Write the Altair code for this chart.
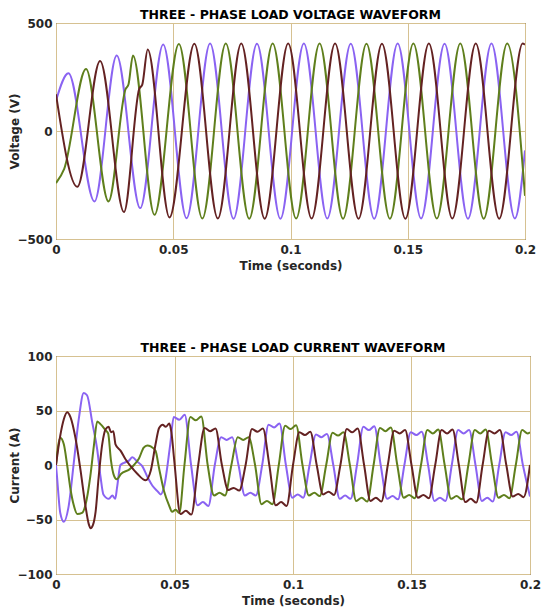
import altair as alt
import pandas as pd

PHASES = ["Phase A", "Phase B", "Phase C"]
COLORS = ["#8a63f2", "#5f7f1c", "#642222"]

TIME_TICKS = [0, 0.05, 0.1, 0.15, 0.2]
VOLT_TICKS = [-500, 0, 500]
CURR_TICKS = [-100, -50, 0, 50, 100]

# ---- load voltage (V): extrema (time s, volts) ----
VOLT_A = [(0, 140), (0.0053, 267), (0.0164, -326), (0.0259, 349), (0.0359, -357),
          (0.0457, 401), (0.0557, -404), (0.0657, 405), (0.0757, -406), (0.0857, 404),
          (0.0957, -406), (0.1057, 405), (0.1157, -405), (0.1257, 404), (0.1357, -406),
          (0.1457, 405), (0.1557, -405), (0.1657, 404), (0.1757, -406), (0.1857, 405),
          (0.1957, -405), (0.2, -90)]
VOLT_B = [(0, -241), (0.0035, -175), (0.0128, 287), (0.0224, -326), (0.0297, 195),
          (0.0309, 215), (0.0328, 349), (0.0420, -388), (0.0524, 403), (0.0624, -405),
          (0.0724, 405), (0.0824, -406), (0.0924, 405), (0.1024, -405), (0.1124, 405),
          (0.1224, -406), (0.1324, 404), (0.1424, -406), (0.1524, 405), (0.1624, -405),
          (0.1724, 405), (0.1824, -406), (0.1924, 405), (0.2, -300)]
VOLT_C = [(0, 170), (0.0091, -258), (0.0188, 324), (0.0290, -375), (0.0355, 195),
          (0.0368, 215), (0.0391, 377), (0.0484, -400), (0.0590, 404), (0.0690, -405),
          (0.0790, 405), (0.0890, -406), (0.0990, 405), (0.1090, -405), (0.1190, 405),
          (0.1290, -406), (0.1390, 404), (0.1490, -406), (0.1590, 405), (0.1690, -405),
          (0.1790, 405), (0.1890, -406), (0.1990, 405), (0.2, 400)]

# ---- load current (A): points (time s, amps) ----
CURR_A = [(0, 0), (0.0004, -10), (0.0018, -44), (0.0033, -52), (0.0054, -37), (0.0075, 2),
          (0.0096, 42), (0.0117, 66), (0.0131, 64), (0.0153, 39), (0.0174, 14), (0.0188, -11),
          (0.0200, -27), (0.0223, -31), (0.0238, -28), (0.0250, -31), (0.0258, -20), (0.0272, 0),
          (0.0287, 2), (0.0308, 4), (0.0322, 7), (0.0343, 3), (0.0364, -1), (0.0386, -11),
          (0.0407, -19), (0.0428, -24), (0.0442, -27), (0.0456, -20), (0.0482, 19),
          (0.0497, 44), (0.0520, 41.5), (0.0543, 46), (0.0570, 0),
          (0.0597, -37), (0.0620, -34), (0.0643, -37.5), (0.0670, 0),
          (0.0697, 25.5), (0.0720, 23), (0.0743, 25.5), (0.0770, 0),
          (0.0797, -28), (0.0820, -25.5), (0.0843, -28), (0.0870, 0),
          (0.0897, 37), (0.0920, 34.5), (0.0943, 38), (0.0970, 0),
          (0.0997, -30), (0.1020, -27), (0.1043, -30), (0.1070, 0),
          (0.1097, 28), (0.1120, 25.5), (0.1143, 28.5), (0.1170, 0),
          (0.1197, -31), (0.1220, -28), (0.1243, -31), (0.1270, 0),
          (0.1297, 35), (0.1320, 32), (0.1343, 35.5), (0.1370, 0),
          (0.1397, -31), (0.1420, -28.5), (0.1443, -31.5), (0.1470, 0),
          (0.1497, 30), (0.1520, 27.5), (0.1543, 30.5), (0.1570, 0),
          (0.1597, -33), (0.1620, -30), (0.1643, -33), (0.1670, 0),
          (0.1697, 32), (0.1720, 29), (0.1743, 32), (0.1770, 0),
          (0.1797, -33), (0.1820, -30), (0.1843, -33.5), (0.1870, 0),
          (0.1897, 30), (0.1920, 27.5), (0.1943, 30.5), (0.1970, 0),
          (0.2000, -29)]
CURR_B = [(0, 0), (0.0008, 16), (0.0018, 25), (0.0033, 19), (0.0047, 0), (0.0061, -22),
          (0.0075, -37), (0.0090, -45), (0.0110, -44), (0.0124, -37), (0.0145, -10),
          (0.0160, 18), (0.0174, 40), (0.0190, 37), (0.0209, 32), (0.0220, 29), (0.0232, 4),
          (0.0245, -10), (0.0256, -13), (0.0275, -8), (0.0310, -4), (0.0329, 0), (0.0350, 6),
          (0.0370, 16), (0.0385, 18), (0.0400, 17), (0.0420, 13), (0.0434, -2), (0.0456, -24),
          (0.0477, -37), (0.0490, -43), (0.0505, -41), (0.0520, -44), (0.0542, 0),
          (0.0567, 44), (0.0590, 41), (0.0613, 44.5), (0.0640, 0),
          (0.0667, -28), (0.0690, -25.5), (0.0713, -28), (0.0740, 0),
          (0.0767, 25.5), (0.0790, 23), (0.0813, 25.5), (0.0840, 0),
          (0.0867, -36), (0.0890, -33), (0.0913, -36), (0.0940, 0),
          (0.0967, 36), (0.0990, 33), (0.1013, 36.5), (0.1040, 0),
          (0.1067, -28), (0.1090, -25.5), (0.1113, -28.5), (0.1140, 0),
          (0.1167, 29.5), (0.1190, 27), (0.1213, 30), (0.1240, 0),
          (0.1267, -33), (0.1290, -30), (0.1313, -33.5), (0.1340, 0),
          (0.1367, 34), (0.1390, 31), (0.1413, 34.5), (0.1440, 0),
          (0.1467, -30), (0.1490, -27.5), (0.1513, -30.5), (0.1540, 0),
          (0.1567, 32), (0.1590, 29), (0.1613, 32.5), (0.1640, 0),
          (0.1667, -31), (0.1690, -28.5), (0.1713, -31.5), (0.1740, 0),
          (0.1767, 32), (0.1790, 29), (0.1813, 32.5), (0.1840, 0),
          (0.1867, -30), (0.1890, -27.5), (0.1913, -30.5), (0.1940, 0),
          (0.1967, 32), (0.1990, 29), (0.2000, 30)]
CURR_C = [(0, 0), (0.0018, 27), (0.0033, 42), (0.0047, 48.5), (0.0061, 44), (0.0082, 25),
          (0.0103, -4), (0.0124, -37), (0.0138, -54), (0.0146, -58), (0.0156, -55),
          (0.0167, -43), (0.0180, -11), (0.0195, 19), (0.0210, 33), (0.0222, 35), (0.0232, 30),
          (0.0242, 31), (0.0251, 19), (0.0273, 13), (0.0294, 5), (0.0315, -1), (0.0343, -8),
          (0.0378, -14), (0.0400, -5), (0.0420, 19), (0.0435, 34), (0.0450, 37), (0.0463, 35),
          (0.0478, 38), (0.0487, 30), (0.0499, 4),
          (0.0525, -45), (0.0548, -42), (0.0571, -45.5), (0.0600, 0),
          (0.0627, 34), (0.0650, 31), (0.0673, 33.5), (0.0700, 0),
          (0.0727, -23), (0.0750, -21), (0.0773, -23.5), (0.0800, 0),
          (0.0827, 33), (0.0850, 30.5), (0.0873, 33.5), (0.0900, 0),
          (0.0927, -37), (0.0950, -34), (0.0973, -37.5), (0.1000, 0),
          (0.1027, 30), (0.1050, 27.5), (0.1073, 30.5), (0.1100, 0),
          (0.1127, -27), (0.1150, -24.5), (0.1173, -27.5), (0.1200, 0),
          (0.1227, 33), (0.1250, 30), (0.1273, 33.5), (0.1300, 0),
          (0.1327, -33), (0.1350, -30), (0.1373, -33.5), (0.1400, 0),
          (0.1427, 31.5), (0.1450, 29), (0.1473, 32), (0.1500, 0),
          (0.1527, -30), (0.1550, -27.5), (0.1573, -30.5), (0.1600, 0),
          (0.1627, 32), (0.1650, 29), (0.1673, 32.5), (0.1700, 0),
          (0.1727, -34), (0.1750, -31), (0.1773, -34.5), (0.1800, 0),
          (0.1827, 31.5), (0.1850, 29), (0.1873, 32), (0.1900, 0),
          (0.1927, -29), (0.1950, -26.5), (0.1973, -29.5), (0.2000, 0)]


def frame(series):
    rows = []
    for name, pts in zip(PHASES, series):
        rows += [{"t": t, "v": v, "phase": name} for t, v in pts]
    return pd.DataFrame(rows)


def panel(df, title, ytitle, ydomain, yticks, width, height):
    return alt.Chart(df, title=alt.Title(title, frame="group", offset=-4)).mark_line(
        interpolate="monotone", strokeWidth=2, clip=True
    ).encode(
        x=alt.X("t:Q", scale=alt.Scale(domain=[0, 0.2], nice=False, zero=False),
                axis=alt.Axis(values=TIME_TICKS, format="~g", title="Time (seconds)",
                              labelPadding=5, titlePadding=5)),
        y=alt.Y("v:Q", scale=alt.Scale(domain=ydomain, nice=False),
                axis=alt.Axis(values=yticks, title=ytitle, labelPadding=4, titlePadding=-5)),
        color=alt.Color("phase:N", scale=alt.Scale(domain=PHASES, range=COLORS), legend=None),
    ).properties(width=width, height=height)


top = panel(frame([VOLT_A, VOLT_B, VOLT_C]), "THREE - PHASE LOAD VOLTAGE WAVEFORM",
            "Voltage (V)", [-500, 500], VOLT_TICKS, 469, 216)
bottom = panel(frame([CURR_A, CURR_B, CURR_C]), "THREE - PHASE LOAD CURRENT WAVEFORM",
               "Current (A)", [-100, 100], CURR_TICKS, 474, 218)

chart = alt.VConcatChart(vconcat=[top, bottom], spacing=69, padding=0).configure_view(
    stroke="black", strokeWidth=1
).configure_axis(
    domain=False, ticks=False, labelFont="DejaVu Sans", labelFontWeight="bold",
    labelFontSize=12, labelColor="#262626", titleFont="DejaVu Sans",
    titleFontWeight="bold", titleFontSize=12, titleColor="#262626",
    gridColor="#d6c191", gridOpacity=1, gridWidth=1, labelFlush=False
).configure_title(
    font="DejaVu Sans", fontSize=12.5, fontWeight="bold", color="black", anchor="middle"
)

chart.save("out.html", embed_options={"renderer": "svg", "actions": False})
